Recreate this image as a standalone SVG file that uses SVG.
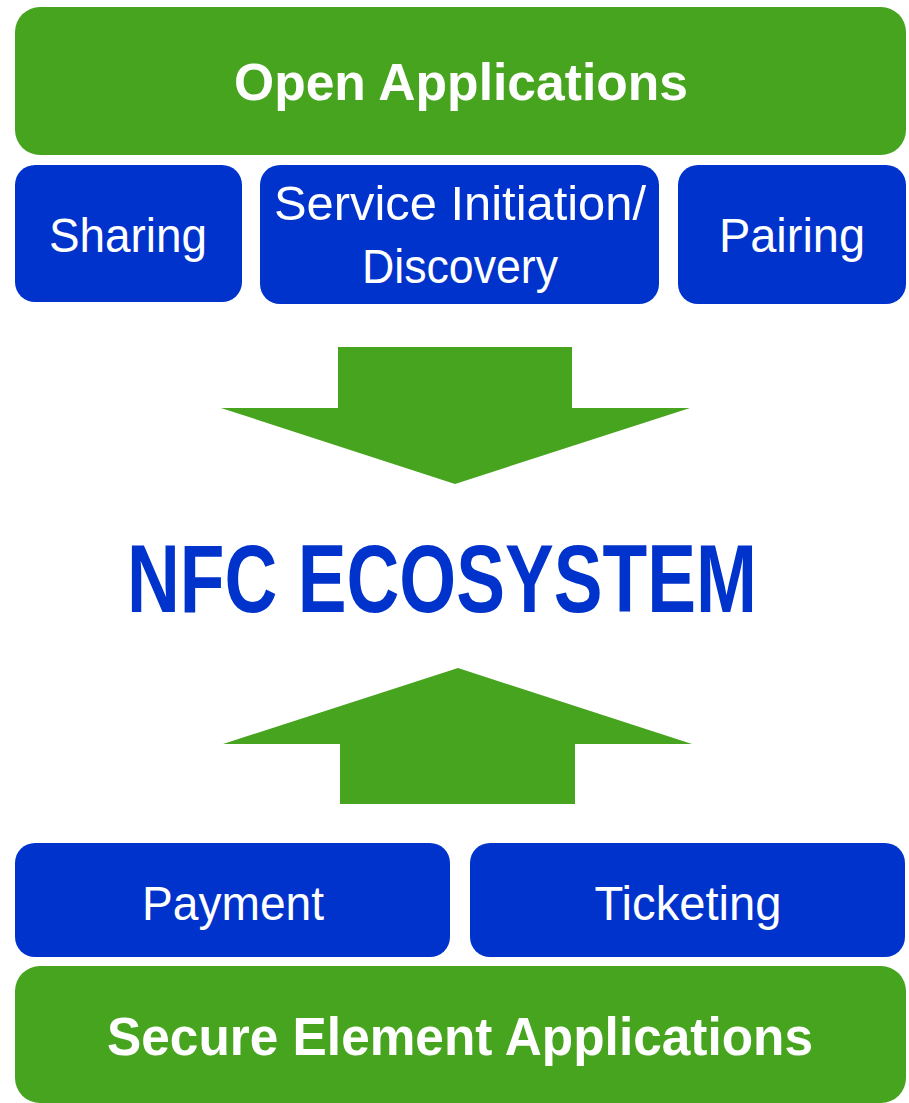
<svg xmlns="http://www.w3.org/2000/svg" width="909" height="1103" viewBox="0 0 909 1103">
<style>
.g{fill:#47A41F}
.b{fill:#0033CC}
.t{font-family:"Liberation Sans",Arial,sans-serif;fill:#fff;text-anchor:middle}
.bold{font-weight:bold}
.big{font-family:"Liberation Sans",Arial,sans-serif;font-weight:bold;fill:#0033CC;text-anchor:middle}
</style>
<rect width="909" height="1103" fill="#fff"/>
<g id="open-apps"><rect class="g" x="15" y="7" width="891" height="148" rx="25"/><text class="t bold" x="461" y="100" font-size="52" textLength="454" lengthAdjust="spacingAndGlyphs">Open Applications</text></g>
<g id="sharing"><rect class="b" x="15" y="165" width="227" height="137" rx="20"/><text class="t" x="128" y="252" font-size="48" textLength="158" lengthAdjust="spacingAndGlyphs">Sharing</text></g>
<g id="service"><rect class="b" x="260" y="165" width="399" height="139" rx="20"/><text class="t" x="460" y="220" font-size="48" textLength="372" lengthAdjust="spacingAndGlyphs">Service Initiation/</text><text class="t" x="460" y="283" font-size="48" textLength="196" lengthAdjust="spacingAndGlyphs">Discovery</text></g>
<g id="pairing"><rect class="b" x="678" y="165" width="228" height="139" rx="20"/><text class="t" x="792" y="252" font-size="48" textLength="146" lengthAdjust="spacingAndGlyphs">Pairing</text></g>
<g id="connectors">
<polygon class="g" points="338,347 572,347 572,408 690,408 455,484 221,408 338,408"/>
<polygon class="g" points="458,668 692,744 575,744 575,804 340,804 340,744 223,744"/>
</g>
<g id="nfc"><text class="big" x="442" y="612" font-size="96" textLength="630" lengthAdjust="spacingAndGlyphs">NFC ECOSYSTEM</text></g>
<g id="payment"><rect class="b" x="15" y="843" width="435" height="114" rx="20"/><text class="t" x="233" y="920" font-size="48" textLength="182" lengthAdjust="spacingAndGlyphs">Payment</text></g>
<g id="ticketing"><rect class="b" x="470" y="843" width="435" height="114" rx="20"/><text class="t" x="688" y="920" font-size="48" textLength="187" lengthAdjust="spacingAndGlyphs">Ticketing</text></g>
<g id="secure-apps"><rect class="g" x="15" y="966" width="891" height="137" rx="25"/><text class="t bold" x="460" y="1055" font-size="54" textLength="706" lengthAdjust="spacingAndGlyphs">Secure Element Applications</text></g>
</svg>
